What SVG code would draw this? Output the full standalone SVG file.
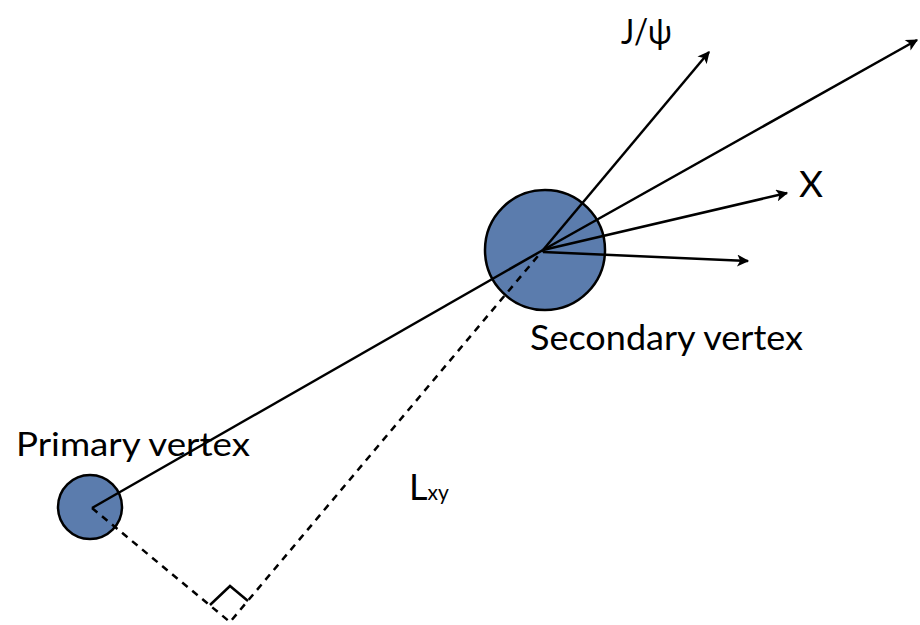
<svg xmlns="http://www.w3.org/2000/svg" width="920" height="625" viewBox="0 0 920 625">
<defs>
<marker id="ah" viewBox="0 0 10 10" refX="9" refY="5" markerWidth="13" markerHeight="12" markerUnits="userSpaceOnUse" orient="auto">
<path d="M0,0 L10,5 L0,10 L2.5,5 Z" fill="#000"/>
</marker>
</defs>
<style>
.v{fill:#5b7cad;stroke:#000;stroke-width:2.5}
.l{stroke:#000;stroke-width:2.5;fill:none}
.d{stroke:#000;stroke-width:2.5;fill:none;stroke-dasharray:7,6}
.t{font-family:Lato,"Open Sans",sans-serif;fill:#000}
</style>
<rect width="920" height="625" fill="#fff"/>
<g id="secondary-vertex">
<circle class="v" cx="545" cy="250" r="60"/>
<text class="t" x="530" y="350" font-size="34" textLength="273" lengthAdjust="spacingAndGlyphs">Secondary vertex</text>
</g>
<g id="primary-vertex">
<circle class="v" cx="90" cy="507" r="32"/>
<text class="t" x="16" y="456" font-size="32" textLength="234" lengthAdjust="spacingAndGlyphs">Primary vertex</text>
</g>
<g id="connectors">
<line class="l" x1="92" y1="508" x2="543" y2="250"/>
<path class="d" d="M92,508 L230,622 L543,250"/>
<path class="l" d="M210,605 L230,586 L248,601"/>
<line class="l" x1="543" y1="250" x2="709" y2="52" marker-end="url(#ah)"/>
<line class="l" x1="543" y1="250" x2="917" y2="40" marker-end="url(#ah)"/>
<line class="l" x1="543" y1="250" x2="787" y2="193" marker-end="url(#ah)"/>
<line class="l" x1="543" y1="252" x2="748" y2="261" marker-end="url(#ah)"/>
</g>
<g id="labels">
<text class="t" x="621" y="44" font-size="34" textLength="51" lengthAdjust="spacingAndGlyphs">J/ψ</text>
<text class="t" x="799" y="197" font-size="37">X</text>
<text class="t" x="409" y="500" font-size="36">L<tspan font-size="21">xy</tspan></text>
</g>
</svg>
